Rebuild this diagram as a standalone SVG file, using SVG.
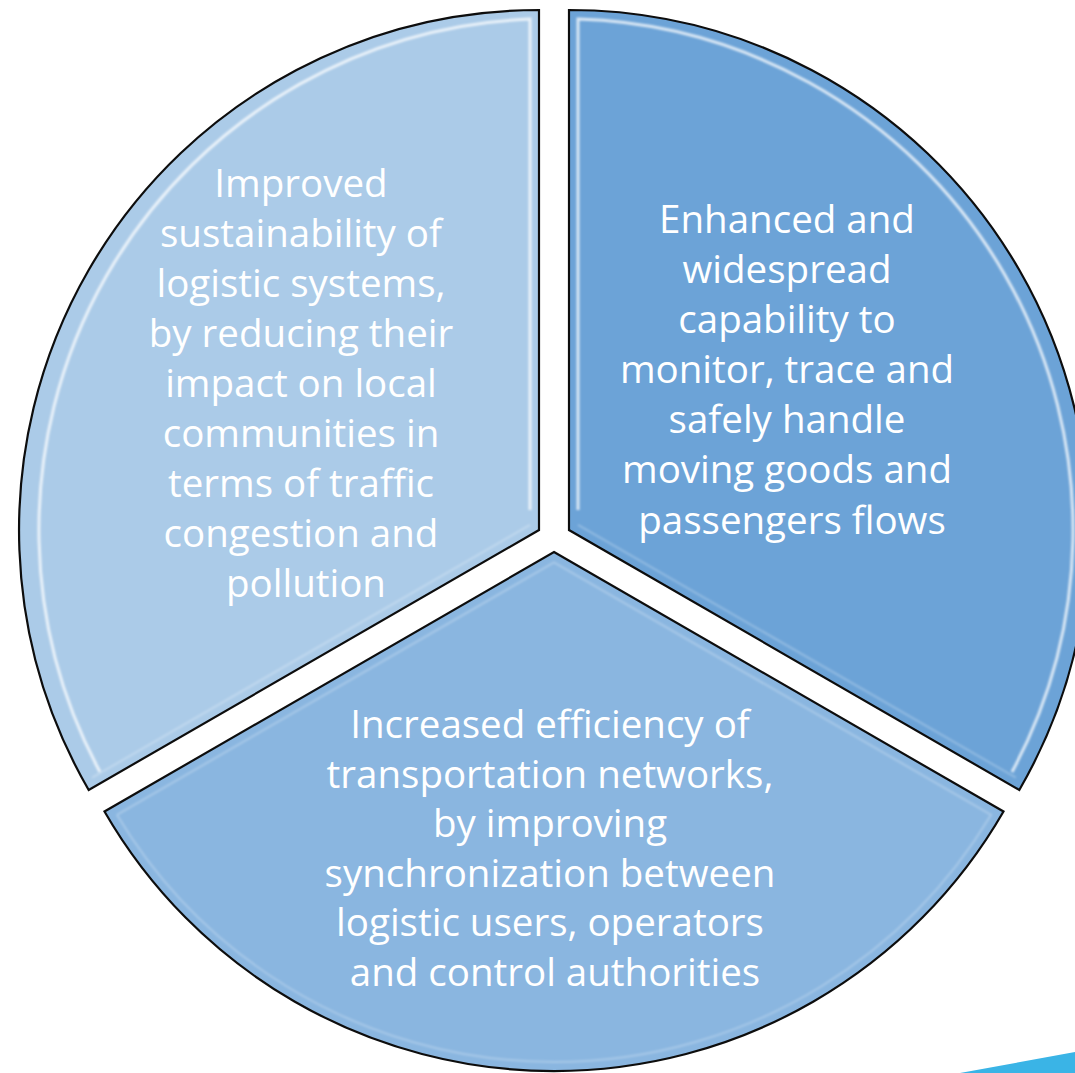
<svg xmlns="http://www.w3.org/2000/svg" width="1075" height="1073" viewBox="0 0 1075 1073">
  <style>
    .seg { stroke: #0d0d0d; stroke-width: 2.2; stroke-linejoin: miter; }
    .hl { fill: none; stroke: #ffffff; stroke-width: 3; stroke-opacity: 0.75; }
    .hls { fill: none; stroke: #ffffff; stroke-width: 2; stroke-opacity: 0.25; }
    .lbl { font-family: "Open Sans", "Noto Sans", sans-serif; font-size: 38.5px; fill: #ffffff; text-anchor: middle; }
  </style>
  <defs>
    <filter id="soft" x="-5%" y="-5%" width="110%" height="110%">
      <feGaussianBlur stdDeviation="1.2"/>
    </filter>
  </defs>
  <rect width="1075" height="1073" fill="#ffffff"/>

  <g id="node-sustainability">
    <path class="seg" fill="#abcbe8" d="M539,530 L539,10 A520,520 0 0 0 88.7,790 Z"/>
    <path class="hls" d="M92.1,777.7 L530,524.8" filter="url(#soft)"/>
    <path class="hl" d="M530,510 L530,19.1 A511,511 0 0 0 100,772" filter="url(#soft)"/>
    <text class="lbl">
      <tspan x="306" y="197">Improved</tspan>
      <tspan x="306" y="247">sustainability of</tspan>
      <tspan x="306" y="297">logistic systems,</tspan>
      <tspan x="306" y="347">by reducing their</tspan>
      <tspan x="306" y="397">impact on local</tspan>
      <tspan x="306" y="447">communities in</tspan>
      <tspan x="306" y="497">terms of traffic</tspan>
      <tspan x="306" y="547">congestion and</tspan>
      <tspan x="306" y="597">pollution</tspan>
    </text>
  </g>

  <g id="node-monitoring">
    <path class="seg" fill="#6ca3d7" d="M569,530 L569,10 A520,520 0 0 1 1019.3,790 Z"/>
    <path class="hls" d="M578,524.8 L1015.9,777.7" filter="url(#soft)"/>
    <path class="hl" d="M578,510 L578,19.1 A511,511 0 0 1 1012,772" filter="url(#soft)"/>
    <text class="lbl">
      <tspan x="792" y="233">Enhanced and</tspan>
      <tspan x="792" y="283">widespread</tspan>
      <tspan x="792" y="333">capability to</tspan>
      <tspan x="792" y="383">monitor, trace and</tspan>
      <tspan x="792" y="433">safely handle</tspan>
      <tspan x="792" y="483">moving goods and</tspan>
      <tspan x="792" y="534">passengers flows</tspan>
    </text>
  </g>

  <g id="node-efficiency">
    <path class="seg" fill="#8ab6e0" d="M554,552 L1003.5,811.5 A519,519 0 0 1 104.5,811.5 Z"/>
    <path class="hls" d="M116.9,814.8 L554,562.4 L991.1,814.8 A510,510 0 0 1 116.9,814.8" filter="url(#soft)"/>
    <text class="lbl">
      <tspan x="555" y="738">Increased efficiency of</tspan>
      <tspan x="555" y="787.5">transportation networks,</tspan>
      <tspan x="555" y="837">by improving</tspan>
      <tspan x="555" y="886.5">synchronization between</tspan>
      <tspan x="555" y="936">logistic users, operators</tspan>
      <tspan x="555" y="985.5">and control authorities</tspan>
    </text>
  </g>

  <g id="connectors"/>

  <polygon id="corner-accent" points="960,1073 1075,1052 1075,1073" fill="#3ab4e6"/>
</svg>
